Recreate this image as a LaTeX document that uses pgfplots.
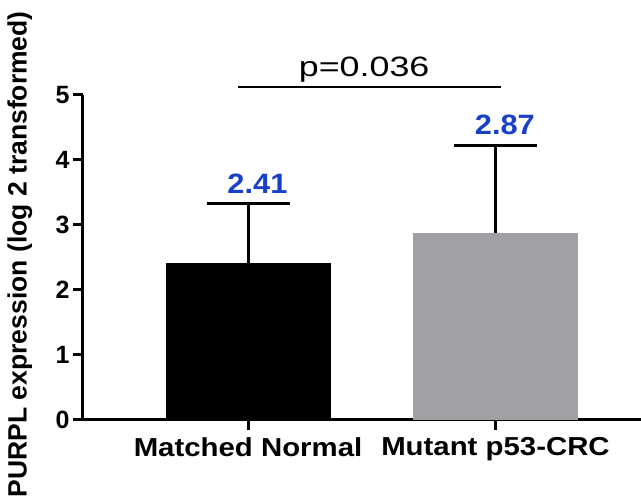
\documentclass[border=0pt]{standalone}
\usepackage{pgfplots}
\pgfplotsset{compat=1.18}
\usepackage{fontspec}
\setmainfont{Liberation Sans}
\definecolor{bargray}{RGB}{161,160,165}
\definecolor{valblue}{RGB}{25,65,200}
\begin{document}
\begin{tikzpicture}
\useasboundingbox (0,0) rectangle (641pt,500pt);
\begin{axis}[
 scale only axis, width=558pt, height=325pt,
 at={(83pt,80pt)}, anchor=south west,
 xmin=-0.667, xmax=1.588, ymin=0, ymax=5,
 axis lines=left, axis line style={-, line width=3pt},
 xtick={0,1}, xticklabels={Matched Normal, Mutant p53-CRC},
 ytick={0,1,2,3,4,5},
 tick align=outside, major tick length=10pt,
 tick style={line width=3pt, black},
 /pgf/number format/assume math mode=true,
 yticklabel style={font=\fontsize{25}{30}\selectfont\bfseries},
 xticklabel style={font=\fontsize{26}{31}\selectfont\bfseries, xscale=1.13, yshift=-4pt},
 ylabel={PURPL expression (log 2 transformed)},
 ylabel style={font=\fontsize{26.5}{32}\selectfont\bfseries, at={(axis description cs:-0.113,0.51)}, anchor=center},
 clip=false,
]
\addplot[ybar, bar width=0.667, bar shift=0pt, fill=black, draw=none,
  error bars/.cd, y dir=plus, y explicit, error mark=|,
  error bar style={line width=3pt, black},
  error mark options={mark size=41.5pt, line width=3pt, black}]
  coordinates {(0,2.41) +- (0,0.92)};
\addplot[ybar, bar width=0.667, bar shift=0pt, fill=bargray, draw=none,
  error bars/.cd, y dir=plus, y explicit, error mark=|,
  error bar style={line width=3pt, black},
  error mark options={mark size=41.5pt, line width=3pt, black}]
  coordinates {(1,2.87) +- (0,1.35)};
% value labels
\addplot[only marks, mark=none, nodes near coords, point meta=explicit symbolic,
  every node near coord/.append style={anchor=base, font=\fontsize{28}{34}\selectfont\bfseries, text=valblue, xscale=1.1}]
  coordinates {(0.038,3.49)[2.41] (1.038,4.385)[2.87]};
% significance line
\addplot[black, line width=1.5pt] coordinates {(-0.04,5.123) (1.022,5.123)};
\node[font=\fontsize{28}{34}\selectfont, xscale=1.28, anchor=base] at (axis cs:0.469,5.277) {p=0.036};
\end{axis}
\end{tikzpicture}
\end{document}
